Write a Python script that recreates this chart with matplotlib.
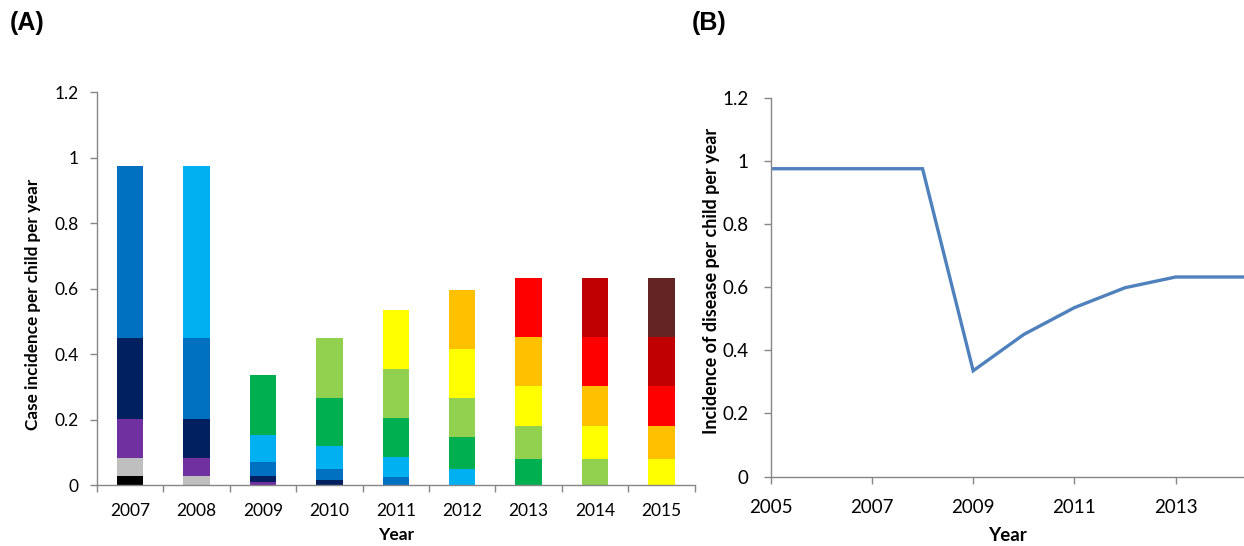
import matplotlib
matplotlib.use("Agg")
import matplotlib.pyplot as plt
from matplotlib.ticker import FixedLocator, NullFormatter

# ---- Panel A: case incidence by birth cohort, stacked per year ----
bar_years = ["2007", "2008", "2009", "2010", "2011", "2012", "2013", "2014", "2015"]

# one list per cohort (oldest first), values for 2007..2015
cohort_01 = [0.026, 0, 0, 0, 0, 0, 0, 0, 0]
cohort_02 = [0.055, 0.026, 0, 0, 0, 0, 0, 0, 0]
cohort_03 = [0.120, 0.055, 0.009, 0, 0, 0, 0, 0, 0]
cohort_04 = [0.247, 0.120, 0.018, 0.015, 0, 0, 0, 0, 0]
cohort_05 = [0.527, 0.247, 0.042, 0.034, 0.025, 0, 0, 0, 0]
cohort_06 = [0, 0.527, 0.085, 0.071, 0.060, 0.049, 0, 0, 0]
cohort_07 = [0, 0, 0.181, 0.146, 0.120, 0.097, 0.080, 0, 0]
cohort_08 = [0, 0, 0, 0.182, 0.148, 0.121, 0.101, 0.080, 0]
cohort_09 = [0, 0, 0, 0, 0.182, 0.149, 0.121, 0.101, 0.080]
cohort_10 = [0, 0, 0, 0, 0, 0.180, 0.149, 0.121, 0.101]
cohort_11 = [0, 0, 0, 0, 0, 0, 0.181, 0.149, 0.121]
cohort_12 = [0, 0, 0, 0, 0, 0, 0, 0.181, 0.149]
cohort_13 = [0, 0, 0, 0, 0, 0, 0, 0, 0.182]

cohort_colors = ["#000000", "#BFBFBF", "#7030A0", "#002060", "#0070C0",
                 "#00B0F0", "#00B050", "#92D050", "#FFFF00", "#FFC000",
                 "#FF0000", "#C00000", "#632523"]

# ---- Panel B: overall incidence over time ----
line_years = [2005, 2006, 2007, 2008, 2009, 2010, 2011, 2012, 2013, 2014, 2015]
line_values = [0.975, 0.975, 0.975, 0.975, 0.335, 0.450, 0.535, 0.598, 0.632, 0.632, 0.632]

y_ticks = [0, 0.2, 0.4, 0.6, 0.8, 1.0, 1.2]
y_tick_labels = ["0", "0.2", "0.4", "0.6", "0.8", "1", "1.2"]
line_x_ticks = [2005, 2007, 2009, 2011, 2013]

W, H = 1244, 546
plt.rcParams["font.family"] = ["Lato", "DejaVu Sans"]
fig = plt.figure(figsize=(W / 100, H / 100), dpi=100)

AXIS_GREY = "#868686"


def px_rect(x0, y0, x1, y1):
    return [x0 / W, 1 - y1 / H, (x1 - x0) / W, (y1 - y0) / H]


def style_axes(ax):
    for side in ("top", "right"):
        ax.spines[side].set_visible(False)
    for side in ("left", "bottom"):
        ax.spines[side].set_color(AXIS_GREY)
        ax.spines[side].set_linewidth(1.0)
    ax.tick_params(which="both", color=AXIS_GREY, width=1.0, direction="out")


# ---------------- Panel A ----------------
axA = fig.add_axes(px_rect(97, 92.3, 694.6, 485))
style_axes(axA)
cohorts = [cohort_01, cohort_02, cohort_03, cohort_04, cohort_05, cohort_06,
           cohort_07, cohort_08, cohort_09, cohort_10, cohort_11, cohort_12,
           cohort_13]
xpos = list(range(len(bar_years)))
base = [0.0] * len(bar_years)
for vals, col in zip(cohorts, cohort_colors):
    axA.bar(xpos, vals, bottom=base, width=0.4, color=col, linewidth=0)
    base = [b + v for b, v in zip(base, vals)]

axA.set_xlim(-0.5, len(bar_years) - 0.5)
axA.set_ylim(0, 1.2)
axA.set_yticks(y_ticks)
axA.set_yticklabels(y_tick_labels)
axA.xaxis.set_major_locator(FixedLocator([i - 0.5 for i in range(len(bar_years) + 1)]))
axA.xaxis.set_major_formatter(NullFormatter())
axA.xaxis.set_minor_locator(FixedLocator(xpos))
axA.set_xticklabels(bar_years, minor=True)
axA.tick_params(axis="x", which="major", length=5)
axA.tick_params(axis="x", which="minor", length=0, pad=13, labelsize=12.5)
axA.tick_params(axis="y", length=5, pad=8, labelsize=12.5)
axA.set_xlabel("Year", fontsize=12.5, fontweight="bold", labelpad=6)
fig.text(33 / W, 1 - 304 / H, "Case incidence per child per year", rotation=90,
         ha="center", va="center", fontsize=12.3, fontweight="bold")

# ---------------- Panel B ----------------
axB = fig.add_axes(px_rect(770.7, 97.7, 1244, 476.5))
style_axes(axB)
axB.plot(line_years, line_values, color="#4F81BD", linewidth=2.4,
         solid_joinstyle="miter")
axB.set_xlim(2005, 2014.35)
axB.set_ylim(0, 1.2)
axB.set_yticks(y_ticks)
axB.set_yticklabels(y_tick_labels)
axB.set_xticks(line_x_ticks)
axB.set_xticklabels([str(v) for v in line_x_ticks])
axB.tick_params(axis="x", length=5, pad=11, labelsize=13.5)
axB.tick_params(axis="y", length=5, pad=11, labelsize=13.5)
axB.set_xlabel("Year", fontsize=13.5, fontweight="bold", labelpad=8)
fig.text(711 / W, 1 - 281 / H, "Incidence of disease per child per year", rotation=90,
         ha="center", va="center", fontsize=13, fontweight="bold")

# panel letters
fig.text(10 / W, 1 - 23 / H, "(A)", fontsize=18, fontweight="bold",
         family="Liberation Sans", ha="left", va="center")
fig.text(692 / W, 1 - 23 / H, "(B)", fontsize=18, fontweight="bold",
         family="Liberation Sans", ha="left", va="center")

fig.savefig("out.png", dpi=100)
